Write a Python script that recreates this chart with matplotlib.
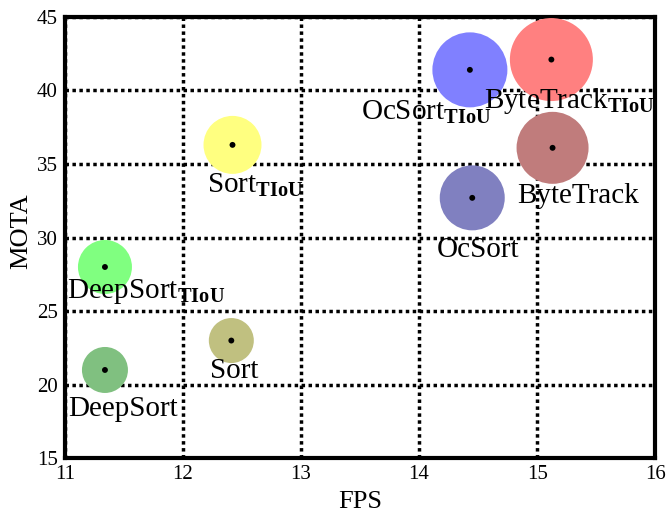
import matplotlib
matplotlib.use("Agg")
import matplotlib.pyplot as plt

plt.rcParams['font.family'] = ['Liberation Serif', 'DejaVu Serif']
plt.rcParams['mathtext.fontset'] = 'custom'
plt.rcParams['mathtext.rm'] = 'Liberation Serif'
plt.rcParams['mathtext.bf'] = 'Liberation Serif:bold'

methods = ['DeepSort', 'DeepSort_TIoU', 'Sort', 'Sort_TIoU',
           'OcSort_TIoU', 'ByteTrack_TIoU', 'ByteTrack', 'OcSort']
fps = [11.34, 11.34, 12.41, 12.42, 14.43, 15.12, 15.13, 14.45]
mota = [21.0, 28.0, 23.0, 36.3, 41.4, 42.1, 36.1, 32.7]
bubble_diam_px = [46, 54, 45, 58, 75, 83, 72, 65]
colors = ['#80c080', '#80ff80', '#c0c080', '#ffff80',
          '#8080ff', '#ff8080', '#c07c7c', '#8080c0']
label_offsets_px = [(18, -39), (41, -25), (3, -30), (23, -40),
                    (-44, -42), (18, -41), (26, -48), (6, -52)]

xticks = [11, 12, 13, 14, 15, 16]
yticks = [15, 20, 25, 30, 35, 40, 45]

fig = plt.figure(figsize=(6.68, 5.12), dpi=100)
ax = fig.add_axes([0.097, 0.105, 0.884, 0.862])

px2pt = 72 / 100
sizes = [(d * px2pt) ** 2 for d in bubble_diam_px]
ax.scatter(fps, mota, s=sizes, c=colors, edgecolors='none', zorder=3)
ax.scatter(fps, mota, s=18, c='black', edgecolors='none', zorder=4)

def fmt(name):
    if name.endswith('_TIoU'):
        base = name[:-5]
        return base + r'$_{\mathbf{TIoU}}$'
    return name

for x, y, name, (dx, dy) in zip(fps, mota, methods, label_offsets_px):
    ax.annotate(fmt(name), (x, y), xytext=(dx * px2pt, dy * px2pt),
                textcoords='offset points', ha='center', va='center',
                fontsize=21, zorder=5)

ax.set_xlim(11, 16)
ax.set_ylim(15, 45)
ax.set_xticks(xticks)
ax.set_yticks(yticks)
ax.tick_params(labelsize=15, length=0, pad=5)
ax.grid(True, color='black', linestyle=(0, (1, 1)), linewidth=2.5, zorder=1)
ax.set_axisbelow(True)
for sp in ax.spines.values():
    sp.set_linewidth(3)
ax.set_xlabel('FPS', fontsize=19, labelpad=5)
ax.set_ylabel('MOTA', fontsize=19)
ax.yaxis.set_label_coords(-0.055, 0.515)

fig.savefig('out.png', dpi=100)
